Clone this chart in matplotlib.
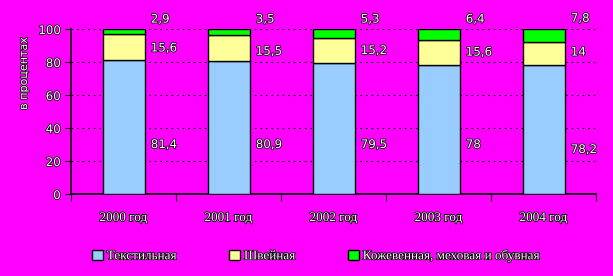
import matplotlib.pyplot as plt
import matplotlib.patheffects as pe
import numpy as np

years = ['2000 год', '2001 год', '2002 год', '2003 год', '2004 год']
textile = [81.4, 80.9, 79.5, 78, 78.2]
sewing = [15.6, 15.5, 15.2, 15.6, 14]
leather = [2.9, 3.5, 5.3, 6.4, 7.8]
labels = ['Текстильная', 'Швейная', 'Кожевенная, меховая и обувная']
colors = ['#99CCFF', '#FFFF99', '#00FF00']
bg = '#FF00FF'

outline = [pe.withStroke(linewidth=1.1, foreground='black')]

fig = plt.figure(figsize=(6.13, 2.76), dpi=100, facecolor=bg)
ax = fig.add_axes([71 / 613, 1 - 194 / 276, 525 / 613, 165 / 276])
ax.set_facecolor(bg)

x = np.arange(len(years))
b1 = np.array(textile)
b2 = b1 + np.array(sewing)

ax.bar(x, textile, width=0.4, color=colors[0], edgecolor='black', linewidth=1, zorder=3, label=labels[0])
ax.bar(x, sewing, width=0.4, bottom=b1, color=colors[1], edgecolor='black', linewidth=1, zorder=3, label=labels[1])
ax.bar(x, leather, width=0.4, bottom=b2, color=colors[2], edgecolor='black', linewidth=1, zorder=3, label=labels[2])

# value labels to the right of each bar
blue_y = [30, 30, 30, 30, 27]
yel_y = [88.5, 86.5, 87, 86, 86]
green_y = [106, 106, 106, 106, 106.5]
for i in range(len(years)):
    for v, yy in [(textile[i], blue_y[i]), (sewing[i], yel_y[i]), (leather[i], green_y[i])]:
        ax.text(x[i] + 0.26, yy, f'{v:g}'.replace('.', ','), fontsize=8.5, color='white',
                va='center', ha='left', path_effects=outline, zorder=5, clip_on=False,
                family='DejaVu Sans')

ax.set_xlim(-0.5, len(years) - 0.5)
ax.set_ylim(0, 100)
ax.set_yticks([0, 20, 40, 60, 80, 100])
ax.yaxis.grid(True, color='black', linestyle=(0, (1.5, 3.5)), linewidth=0.8, zorder=0)
ax.set_axisbelow(True)

ax.set_xticks(np.arange(-0.5, len(years), 1))
ax.set_xticklabels([])
ax.set_xticks(x, minor=True)
ax.set_xticklabels(years, minor=True, family='Liberation Serif', fontsize=9.5, color='white')
ax.tick_params(axis='x', which='major', length=5, direction='out', color='black')
ax.tick_params(axis='x', which='minor', length=0, pad=13)
ax.tick_params(axis='y', length=4, direction='out', color='black', labelsize=8.5, labelcolor='white')
for t in ax.get_xticklabels(minor=True) + ax.get_yticklabels():
    t.set_path_effects(outline)

for s in ['top', 'right']:
    ax.spines[s].set_visible(False)
for s in ['left', 'bottom']:
    ax.spines[s].set_color('black')
    ax.spines[s].set_linewidth(1.2)

yl = ax.set_ylabel('в процентах', fontsize=8, color='white', labelpad=14)
yl.set_path_effects(outline)
ax.yaxis.set_label_coords(-0.08, 0.73)

leg = fig.legend(loc='center', bbox_to_anchor=(0.516, 1 - 256 / 276), ncol=3, frameon=False,
                 prop={'family': 'Liberation Serif', 'size': 9.5}, handlelength=0.8,
                 handleheight=0.8, handletextpad=0.3, columnspacing=4)
for t in leg.get_texts():
    t.set_color('white')
    t.set_path_effects(outline)

fig.savefig('out.png', dpi=100, facecolor=bg)
